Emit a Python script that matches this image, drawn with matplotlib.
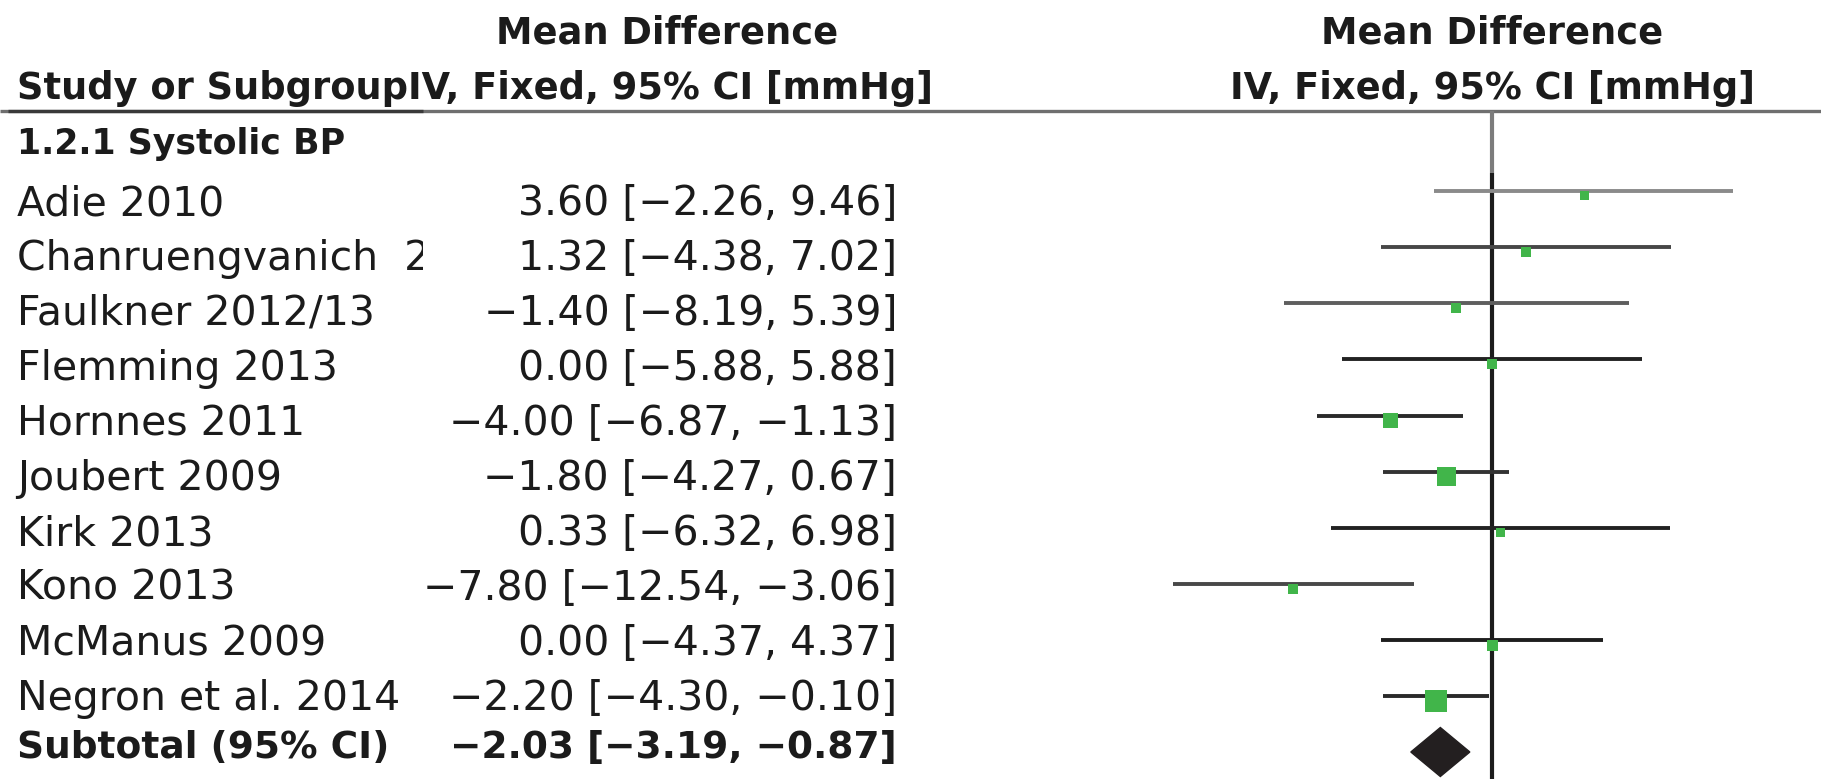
import matplotlib
matplotlib.use("Agg")
import matplotlib.pyplot as plt
from matplotlib.patches import Polygon
from matplotlib.transforms import blended_transform_factory, Bbox, TransformedBbox

# ---------------- data ----------------
studies = ["Adie 2010", "Chanruengvanich  2013", "Faulkner 2012/13", "Flemming 2013",
           "Hornnes 2011", "Joubert 2009", "Kirk 2013", "Kono 2013",
           "McManus 2009", "Negron et al. 2014"]
md = [3.60, 1.32, -1.40, 0.00, -4.00, -1.80, 0.33, -7.80, 0.00, -2.20]
ci_low = [-2.26, -4.38, -8.19, -5.88, -6.87, -4.27, -6.32, -12.54, -4.37, -4.30]
ci_high = [9.46, 7.02, 5.39, 5.88, -1.13, 0.67, 6.98, -3.06, 4.37, -0.10]
square_px = [9, 10, 10, 10, 15, 19, 9, 10, 11, 23]          # relative study weights (square side)
subtotal = [-2.03, -3.19, -0.87]
subgroup = "1.2.1 Systolic BP"
col_study = "Study or Subgroup"
col_md = "IV, Fixed, 95% CI [mmHg]"
col_title = "Mean Difference"

# ---------------- style ----------------
line_colors = ["#8a8a8a", "#474747", "#5e5e5e", "#222222", "#2a2a2a",
               "#333333", "#222222", "#484848", "#1e1e1e", "#2a2a2a"]
W, H = 1821, 779
ROW0, ROWH = 191.0, 56.15         # pixel y of first study CI line, row spacing
TXT0, TXTH = 215.0, 55.0          # pixel baseline of first study text, text row spacing
ZERO_PX, UNIT_PX = 1492.0, 25.45  # pixel x of 0 mmHg, pixels per mmHg
TXT = "#1b1b1b"
GREEN = "#41b54a"


def row(py):
    return (py - ROW0) / ROWH


def fx(px):
    return px / W


def fmt(v):
    return f"{v:.2f}".replace("-", "\u2212")


fig = plt.figure(figsize=(W / 100, H / 100), dpi=100)
ax = fig.add_axes([0, 0, 1, 1])
ax.set_xlim(-ZERO_PX / UNIT_PX, (W - ZERO_PX) / UNIT_PX)
ax.set_ylim(row(H), row(0))
ax.axis("off")
tr = blended_transform_factory(ax.transAxes, ax.transData)

# headers
ax.text(fx(667), row(43), col_title, transform=tr, ha="center", va="baseline",
        fontsize=26.5, fontweight="bold", color=TXT)
ax.text(0, row(43), col_title, ha="center", va="baseline", fontsize=26.5,
        fontweight="bold", color=TXT)
ax.text(fx(17), row(99), col_study + col_md, transform=tr, ha="left", va="baseline",
        fontsize=26.5, fontweight="bold", color=TXT)
ax.text(0, row(99), col_md, ha="center", va="baseline",
        fontsize=26.5, fontweight="bold", color=TXT)

# header rule
ax.plot([fx(0), fx(W)], [row(111), row(111)], transform=tr, color="#6f6f6f", lw=2.4,
        solid_capstyle="butt")
ax.plot([fx(8), fx(423)], [row(111), row(111)], transform=tr, color="#3a3a3a", lw=2.4,
        solid_capstyle="butt")

# subgroup label
ax.text(fx(17), row(154), subgroup, transform=tr, ha="left", va="baseline",
        fontsize=25, fontweight="bold", color=TXT)

# zero line
ax.plot([0, 0], [row(111), row(173)], color="#7c7c7c", lw=3.0, solid_capstyle="butt")
ax.plot([0, 0], [row(173), row(H)], color="#1c1c1c", lw=3.0, solid_capstyle="butt")

name_clip = TransformedBbox(Bbox.from_extents(0, 0, fx(423), 1), ax.transAxes)

for i, (name, m, lo, hi) in enumerate(zip(studies, md, ci_low, ci_high)):
    ty = row(TXT0 + TXTH * i)
    t = ax.text(fx(17), ty, name, transform=tr, ha="left", va="baseline",
                fontsize=29.5, color=TXT, clip_on=True)
    t.set_clip_path(None)
    t.set_clip_box(name_clip)
    ax.text(fx(897), ty, f"{fmt(m)} [{fmt(lo)}, {fmt(hi)}]", transform=tr,
            ha="right", va="baseline", fontsize=29.5, color=TXT)
    ax.plot([lo, hi], [i, i], color=line_colors[i], lw=2.8, solid_capstyle="butt", zorder=2)
    ax.plot([m], [i + 0.08], marker="s", markersize=square_px[i] * 0.72, color=GREEN,
            markeredgewidth=0, linestyle="none", zorder=3)

# subtotal
ax.text(fx(17), row(758), "Subtotal (95% CI)", transform=tr, ha="left", va="baseline",
        fontsize=27, fontweight="bold", color=TXT)
ax.text(fx(897), row(758), f"{fmt(subtotal[0])} [{fmt(subtotal[1])}, {fmt(subtotal[2])}]",
        transform=tr, ha="right", va="baseline", fontsize=27, fontweight="bold", color=TXT)
yc = row(752)
half = 24.5 / ROWH
diamond = Polygon([[subtotal[1], yc], [subtotal[0], yc - half], [subtotal[2], yc],
                   [subtotal[0], yc + half]], closed=True, facecolor="#231f20",
                  edgecolor="#231f20", zorder=3)
ax.add_patch(diamond)

fig.savefig("out.png", dpi=100, facecolor="white")
